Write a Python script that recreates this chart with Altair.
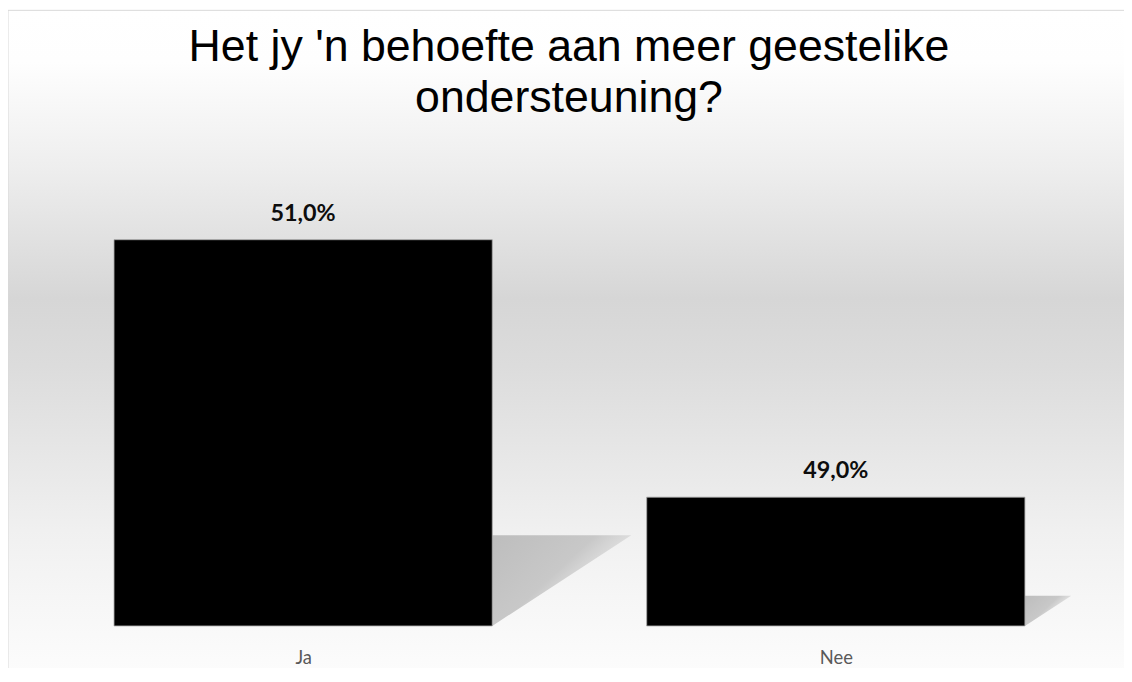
import altair as alt
import pandas as pd

# ---- data ----
categories = ["Ja", "Nee"]
values = [51.0, 49.0]
title_lines = ["Het jy 'n behoefte aan meer geestelike", "ondersteuning?"]
y_min = 48.0
y_max = 51.779

W = 1124
H = 490
PAD_TOP = 130
PAD_BOTTOM = 40
HALF = 0.355

bars = pd.DataFrame({
    "cat": categories,
    "idx": list(range(len(categories))),
    "value": values,
})
bars["x0"] = bars["idx"] - HALF
bars["x1"] = bars["idx"] + HALF
bars["base"] = y_min
bars["label"] = [f"{v:.1f}".replace(".", ",") + "%" for v in values]

# perspective shadow derived from each bar's height
rows = []
for c, i, v in zip(categories, range(len(categories)), values):
    h = v - y_min
    top = y_min + 0.235 * h
    rows.append({"cat": c, "sx": i + HALF, "top": top, "bot": y_min})
    rows.append({"cat": c, "sx": i + HALF + 0.087 * h, "top": top, "bot": top})
shadow = pd.DataFrame(rows)

xscale = alt.Scale(domain=[-0.5, 1.5], range=[29, 1102])
yscale = alt.Scale(domain=[y_min, y_max], zero=False, nice=False)

label_expr = " : ".join(
    f"datum.value == {i} ? '{c}'" for i, c in enumerate(categories)
) + " : ''"

xaxis = alt.Axis(values=list(range(len(categories))), labelExpr=label_expr,
                 title="", ticks=False, domain=False, grid=False,
                 labelFont="Lato", labelFontSize=18.5,
                 labelColor="#595959", labelPadding=23, zindex=1)

bg_gradient = {
    "gradient": "linear", "x1": 0, "y1": 0, "x2": 0, "y2": 1,
    "stops": [
        {"offset": 0.0, "color": "#ffffff"},
        {"offset": 0.076, "color": "#fefefe"},
        {"offset": 0.233, "color": "#eeeeee"},
        {"offset": 0.33, "color": "#e2e2e2"},
        {"offset": 0.428, "color": "#d6d6d6"},
        {"offset": 0.526, "color": "#dcdcdc"},
        {"offset": 0.673, "color": "#e8e8e8"},
        {"offset": 0.77, "color": "#f0f0f0"},
        {"offset": 0.868, "color": "#f6f6f6"},
        {"offset": 1.0, "color": "#fdfdfd"},
    ],
}

background = alt.Chart(alt.Data(values=[{"a": 1}])).mark_rect(
    fill=bg_gradient, stroke="#d9d9d9", strokeWidth=1
).encode(
    x=alt.value(0), x2=alt.value(W + 20),
    y=alt.value(-PAD_TOP), y2=alt.value(H + PAD_BOTTOM + 20),
)

title_layer = alt.Chart(alt.Data(values=[{"a": 1}])).mark_text(
    text=title_lines, font="Liberation Sans", fontSize=45,
    color="#000000", align="center", baseline="bottom", lineHeight=51
).encode(
    x=alt.value(565), y=alt.value(-70),
)

shadow_gradient = {
    "gradient": "linear", "x1": 0, "y1": 0, "x2": 1, "y2": 0.7,
    "stops": [
        {"offset": 0.0, "color": "#bdbdbd"},
        {"offset": 0.5, "color": "#c8c8c8"},
        {"offset": 1.0, "color": "rgba(225,225,225,0)"},
    ],
}

shadow_layer = alt.Chart(shadow).mark_area(
    fill=shadow_gradient, orient="vertical", interpolate="linear"
).encode(
    x=alt.X("sx:Q", scale=xscale, axis=xaxis),
    y=alt.Y("top:Q", scale=yscale, stack=None, axis=None),
    y2="bot:Q",
    detail="cat:N",
)

bar_layer = alt.Chart(bars).mark_rect(
    fill="#000000", stroke="#a6a6a6", strokeWidth=0.8
).encode(
    x=alt.X("x0:Q", scale=xscale, axis=xaxis),
    x2="x1:Q",
    y=alt.Y("value:Q", scale=yscale, axis=None),
    y2="base:Q",
)

label_layer = alt.Chart(bars).mark_text(
    font="Lato", fontSize=23.5, fontWeight="bold", color="#0d0d0d",
    baseline="alphabetic", align="center", dy=-19
).encode(
    x=alt.X("idx:Q", scale=xscale, axis=xaxis),
    y=alt.Y("value:Q", scale=yscale, axis=None),
    text="label:N",
)

chart = alt.layer(background, title_layer, shadow_layer, bar_layer, label_layer).properties(
    width=W, height=H,
    autosize=alt.AutoSizeParams(type="none"),
    padding={"top": PAD_TOP, "left": 0, "right": 0, "bottom": PAD_BOTTOM},
).configure_view(stroke=None)

chart.save("out.html", embed_options={"renderer": "svg", "actions": False})
